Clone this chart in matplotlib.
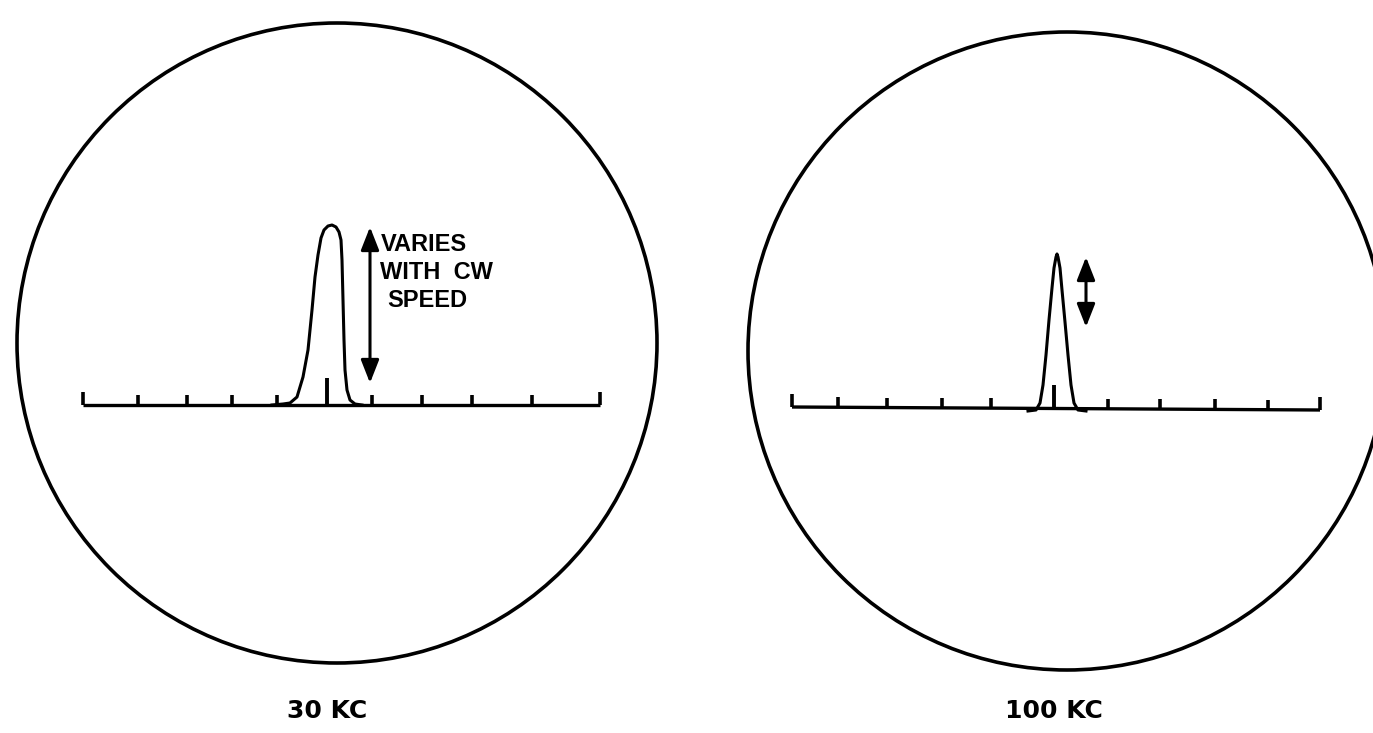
import matplotlib
matplotlib.use('Agg')
import matplotlib.pyplot as plt
from matplotlib.patches import Circle, FancyArrowPatch
import numpy as np

# Everything is in picture pixel units (x right, y down)
W, H = 1373, 733

# Screen outlines: centre x, centre y, radius
screens = [(337, 343, 320), (1067, 351, 319)]

# Baselines with graticule ticks (x of each tick)
base_left_x = [83, 600]
base_left_y = [405, 405]
ticks_left = [83, 138, 187, 232, 277, 372, 422, 472, 532, 600]
base_right_x = [792, 1320]
base_right_y = [407, 410]
ticks_right = [792, 838, 887, 942, 991, 1108, 1160, 1215, 1268, 1320]

# 30 kc response (traced)
peak30_x = [272, 283, 290, 297, 303, 308, 312, 315, 318, 321, 324, 328, 332, 336, 339, 341,
            342, 343, 344, 345, 347, 350, 355, 362]
peak30_y = [405, 404, 403, 397, 377, 350, 310, 277, 255, 238, 230, 226, 225, 227, 232, 240,
            260, 300, 340, 370, 390, 400, 404, 405]
marker30 = (327, 378)

# 100 kc response (traced)
peak100_x = [1028, 1036, 1040, 1043, 1046, 1049, 1052, 1054, 1056, 1057, 1058, 1060, 1062,
             1065, 1068, 1071, 1074, 1078, 1086]
peak100_y = [411, 410, 403, 385, 355, 320, 288, 268, 257, 254, 257, 268, 290, 322, 355,
             385, 403, 410, 411]
marker100 = (1054, 385)

# double-headed arrows: x, y_top, y_bottom
arrows = [(370, 227, 383), (1086, 257, 327)]

label_lines = ['VARIES', 'WITH  CW', 'SPEED']
label_x = [381, 380, 387]
label_y = [233, 261, 289]
captions = ['30 KC', '100 KC']
caption_x = [327, 1054]
caption_y = [699, 699]

fig = plt.figure(figsize=(W / 100, H / 100), dpi=100)
ax = fig.add_axes([0, 0, 1, 1])
ax.set_xlim(0, W)
ax.set_ylim(H, 0)
ax.axis('off')

ink = 'black'
for cx, cy, r in screens:
    ax.add_patch(Circle((cx, cy), r, fill=False, ec=ink, lw=2.6))

# baselines and ticks
for bx, by, tks in [(base_left_x, base_left_y, ticks_left),
                    (base_right_x, base_right_y, ticks_right)]:
    ax.plot(bx, by, color=ink, lw=2.4, solid_capstyle='butt')
    for i, t in enumerate(tks):
        yb = np.interp(t, bx, by)
        h = 13 if i in (0, len(tks) - 1) else 10
        ax.plot([t, t], [yb, yb - h], color=ink, lw=2.6, solid_capstyle='butt')

ax.plot(peak30_x, peak30_y, color=ink, lw=2.2)
ax.plot(peak100_x, peak100_y, color=ink, lw=2.2)
ax.plot([marker30[0]] * 2, [405, marker30[1]], color=ink, lw=2.8, solid_capstyle='butt')
ax.plot([marker100[0]] * 2, [410, marker100[1]], color=ink, lw=2.8, solid_capstyle='butt')

for x, y0, y1 in arrows:
    ax.add_patch(FancyArrowPatch((x, y1), (x, y0),
                                 arrowstyle='<|-|>,head_length=14,head_width=5.5',
                                 mutation_scale=1, color=ink, lw=2.2,
                                 shrinkA=0, shrinkB=0))

fam = ['Liberation Sans', 'DejaVu Sans']
for s, x, y in zip(label_lines, label_x, label_y):
    ax.text(x, y, s, family=fam, fontsize=17, fontweight='bold',
            ha='left', va='top', color=ink)
for s, x, y in zip(captions, caption_x, caption_y):
    ax.text(x, y, s, family=['DejaVu Sans'], fontsize=18, fontweight='bold',
            ha='center', va='top', color=ink)

fig.savefig('out.png', dpi=100, facecolor='white')
